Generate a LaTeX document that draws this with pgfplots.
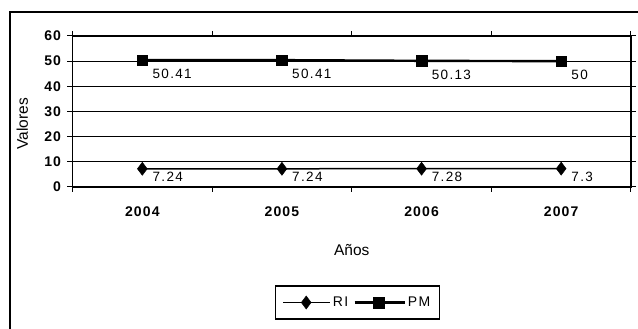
\documentclass[border=0pt]{standalone}
\usepackage{fontspec}
\setmainfont{Liberation Sans}
\newfontfamily\tickfont[LetterSpace=8]{Liberation Sans}
\newfontfamily\labfont[LetterSpace=10]{Liberation Sans}
\usepackage{pgfplots}
\pgfplotsset{compat=1.18}
\begin{document}
\begin{tikzpicture}[x=1pt,y=1pt]
\path[use as bounding box] (0,0) rectangle (638,329);
\draw[line width=1.3pt] (10,-2) -- (10,317) -- (640,317);
\begin{axis}[
  at={(72.5pt,142pt)}, anchor=south west,
  scale only axis, width=558.5pt, height=151pt,
  xmin=0, xmax=4, ymin=0, ymax=60,
  xtick={0,1,2,3,4}, xticklabels={2004,2005,2006,2007},
  x tick label as interval,
  ytick={0,10,...,60},
  ymajorgrids, major grid style={black, line width=1.3pt},
  axis line style={black, line width=1.2pt},
  tick align=outside, major tick length=5pt,
  tick style={black, line width=1pt},
  /pgf/number format/assume math mode=true,
  ticklabel style={font=\tickfont\bfseries\fontsize{14}{16}\selectfont},
  yticklabel style={xshift=-3pt},
  xticklabel style={yshift=-11pt},
  xlabel={Años}, ylabel={Valores},
  label style={font=\fontsize{15.5}{17}\selectfont},
  xlabel style={at={(axis description cs:0.5,-0.42)}, anchor=center},
  ylabel style={at={(axis description cs:-0.09,0.42)}, anchor=center, rotate=0},
  legend style={at={(axis description cs:0.51,-0.765)}, anchor=center,
    legend columns=2, draw=black, line width=1.2pt,
    font=\labfont\fontsize{14}{16}\selectfont,
    inner xsep=7pt, inner ysep=9pt,
    /tikz/every even column/.append style={column sep=3pt}},
  legend cell align=left,
  nodes near coords={\pgfmathprintnumber{\pgfplotspointmeta}},
  nodes near coords style={font=\labfont\fontsize{13.5}{15}\selectfont, inner sep=0pt, anchor=west},
  clip=false,
]
\addplot[black, line width=1.5pt, mark=diamond*, mark size=6.5pt,
  mark options={solid, line width=0.5pt},
  every node near coord/.append style={xshift=10pt, yshift=-8.5pt},
  legend image code/.code={\draw[mark repeat=2,mark phase=2] plot coordinates {(0pt,0pt) (23pt,0pt) (47pt,0pt)};}]
  coordinates {(0.5,7.24) (1.5,7.24) (2.5,7.28) (3.5,7.3)};
\addlegendentry{RI}
\addplot[black, line width=2.4pt, mark=square*, mark size=5.3pt,
  mark options={solid, line width=0.5pt},
  every node near coord/.append style={xshift=10pt, yshift=-14pt},
  legend image code/.code={\draw[mark repeat=2,mark phase=2] plot coordinates {(0pt,0pt) (24pt,0pt) (50pt,0pt)};}]
  coordinates {(0.5,50.41) (1.5,50.41) (2.5,50.13) (3.5,50)};
\addlegendentry{PM}
\end{axis}
\end{tikzpicture}
\end{document}
